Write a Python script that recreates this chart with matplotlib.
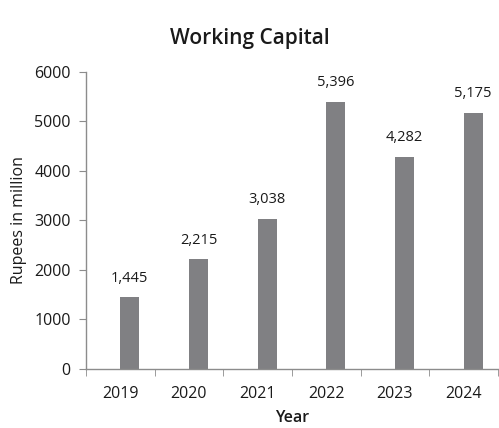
import matplotlib
matplotlib.use("Agg")
import matplotlib.pyplot as plt
import numpy as np

years = ["2019", "2020", "2021", "2022", "2023", "2024"]
values = [1445, 2215, 3038, 5396, 4282, 5175]
value_labels = ["1,445", "2,215", "3,038", "5,396", "4,282", "5,175"]
yticks = [0, 1000, 2000, 3000, 4000, 5000, 6000]

plt.rcParams['font.family'] = ['Open Sans', 'DejaVu Sans']
text_color = "#1a1a1a"
axis_color = "#8c8c8c"
bar_color = "#808083"

fig = plt.figure(figsize=(4.99, 4.28), dpi=100)
ax = fig.add_axes([0.1723, 0.1379, 0.8257, 0.6939])

x = np.arange(len(years))
offset = 0.138
width = 0.277
ax.bar(x + offset, values, width=width, color=bar_color, zorder=2)

for xi, v, lab in zip(x, values, value_labels):
    ax.annotate(lab, (xi + offset, v), xytext=(0, 8.5), textcoords="offset points",
                ha="center", va="bottom", fontsize=10.5, color=text_color)

ax.set_xlim(-0.5, len(years) - 0.5)
ax.set_ylim(0, 6000)
ax.set_yticks(yticks)
ax.set_yticklabels([str(t) for t in yticks], fontsize=11.5, color=text_color)
ax.set_xticks(x)
ax.set_xticklabels(years, fontsize=11.5, color=text_color)
ax.set_xticks(np.arange(-0.5, len(years), 1.0), minor=True)
ax.tick_params(axis="x", which="major", length=0, pad=12)
ax.tick_params(axis="x", which="minor", length=5, color=axis_color, direction="out")
ax.tick_params(axis="y", length=5, color=axis_color, pad=6)

for s in ["top", "right"]:
    ax.spines[s].set_visible(False)
for s in ["left", "bottom"]:
    ax.spines[s].set_color(axis_color)
    ax.spines[s].set_linewidth(1.0)

ax.set_xlabel("Year", fontsize=11.5, color=text_color, fontweight="semibold", labelpad=6)
ax.set_ylabel("Rupees in million", fontsize=11.5, color=text_color, labelpad=5)
fig.text(0.5, 0.91, "Working Capital", ha="center", va="center", fontsize=15,
         fontweight="semibold", color=text_color)

fig.savefig("out.png", dpi=100)
